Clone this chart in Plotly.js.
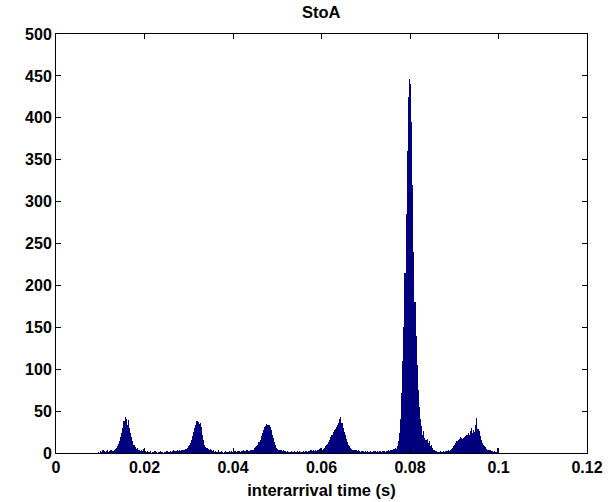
<!DOCTYPE html>
<html>
<head>
<meta charset="utf-8">
<script src="https://cdn.plot.ly/plotly-3.0.1.min.js"></script>
<style>html,body{margin:0;padding:0;background:#fff;}#chart{width:613px;height:502px;}</style>
</head>
<body>
<div id="chart"></div>
<script>
// Histogram of interarrival times (s); bins of width binWidth starting at binStart
var binStart = 0.0095;
var binWidth = 0.00025;
var counts = [
  // 0.0095 - 0.013
  1,0,2,1,3,2,1,2,3,1,2,4,3,2,
  // peak ~0.0156
  4,5,6,8,11,14,19,24,30,38,43,41,34,39,30,24,19,14,9,7,5,6,3,4,2,3,2,5,2,
  // baseline 0.0202 - 0.0285
  1,2,1,1,2,0,1,1,2,1,0,1,1,2,1,1,0,1,2,2,1,1,2,1,2,3,2,2,3,2,3,2,3,
  // peak ~0.032
  3,4,3,5,6,8,9,12,16,20,25,30,34,38,37,35,36,31,22,15,10,7,6,5,4,5,3,2,3,1,2,1,4,
  // baseline 0.0367 - 0.044
  1,1,2,1,0,1,2,1,1,2,1,2,1,1,2,2,1,2,2,1,2,2,3,2,2,3,3,2,3,
  // peak ~0.048
  3,4,4,6,7,8,10,13,16,20,24,28,31,32,35,33,34,31,27,22,18,13,9,6,5,4,3,4,2,3,2,
  // baseline 0.0517 - 0.0587
  2,1,2,1,1,2,1,1,2,1,1,2,1,2,1,1,2,1,2,2,1,2,2,3,2,3,2,3,
  // peak ~0.064
  2,4,3,5,6,4,5,6,8,9,11,13,16,19,22,25,27,29,31,34,36,40,43,36,30,25,22,17,13,10,8,6,5,4,4,3,3,2,3,
  // baseline 0.0685 - 0.0747
  2,1,2,2,1,2,1,2,1,1,2,1,1,2,2,1,2,1,2,2,1,2,2,1,2,
  // main peak ~0.080
  2,3,2,3,4,3,5,6,5,8,14,24,40,72,110,150,215,285,360,425,446,440,395,320,240,180,140,105,75,55,40,32,22,26,18,15,17,12,14,8,10,6,4,3,2,1,
  // baseline 0.0862 - 0.089
  1,1,2,1,1,2,1,2,2,3,2,
  // peak ~0.095
  3,5,6,8,10,12,14,16,17,19,18,17,18,19,20,21,24,22,26,30,24,28,25,33,42,29,26,20,15,12,10,8,7,5,4,3,3,2,2,1,2,1,1,6
];
var xTicks = [0, 0.02, 0.04, 0.06, 0.08, 0.1, 0.12];
var xTickLabels = ['0', '0.02', '0.04', '0.06', '0.08', '0.1', '0.12'];
var yTicks = [0, 50, 100, 150, 200, 250, 300, 350, 400, 450, 500];

var tickFont = {family: 'Liberation Sans, Arial, sans-serif', size: 16, color: '#000', weight: 'bold'};
var titleFont = {family: 'Liberation Sans, Arial, sans-serif', size: 16.5, color: '#000', weight: 'bold'};

var trace = {
  type: 'bar',
  x0: binStart + binWidth / 2,
  dx: binWidth,
  y: counts,
  width: binWidth,
  marker: {color: '#00007f', line: {width: 0}},
  hoverinfo: 'x+y'
};

var layout = {
  width: 613, height: 502,
  margin: {l: 56, r: 26, t: 34, b: 49},
  paper_bgcolor: '#fff', plot_bgcolor: '#fff',
  showlegend: false,
  bargap: 0,
  font: tickFont,
  title: {text: 'StoA', font: titleFont, x: 0.524, xanchor: 'center', y: 0.976, yanchor: 'middle'},
  xaxis: {
    range: [0, 0.12], tickmode: 'array', tickvals: xTicks, ticktext: xTickLabels,
    ticks: 'inside', ticklen: 5, tickwidth: 1, tickcolor: '#000',
    showline: true, linecolor: '#000', linewidth: 1, mirror: 'ticks',
    showgrid: false, zeroline: false, tickfont: tickFont,
    title: {text: 'interarrival time (s)', font: titleFont, standoff: 9}
  },
  yaxis: {
    range: [0, 500], tickmode: 'array', tickvals: yTicks,
    ticks: 'inside', ticklen: 5, tickwidth: 1, tickcolor: '#000',
    showline: true, linecolor: '#000', linewidth: 1, mirror: 'ticks',
    showgrid: false, zeroline: false, tickfont: tickFont
  }
};

Plotly.newPlot('chart', [trace], layout, {displayModeBar: false, staticPlot: true});
</script>
</body>
</html>
